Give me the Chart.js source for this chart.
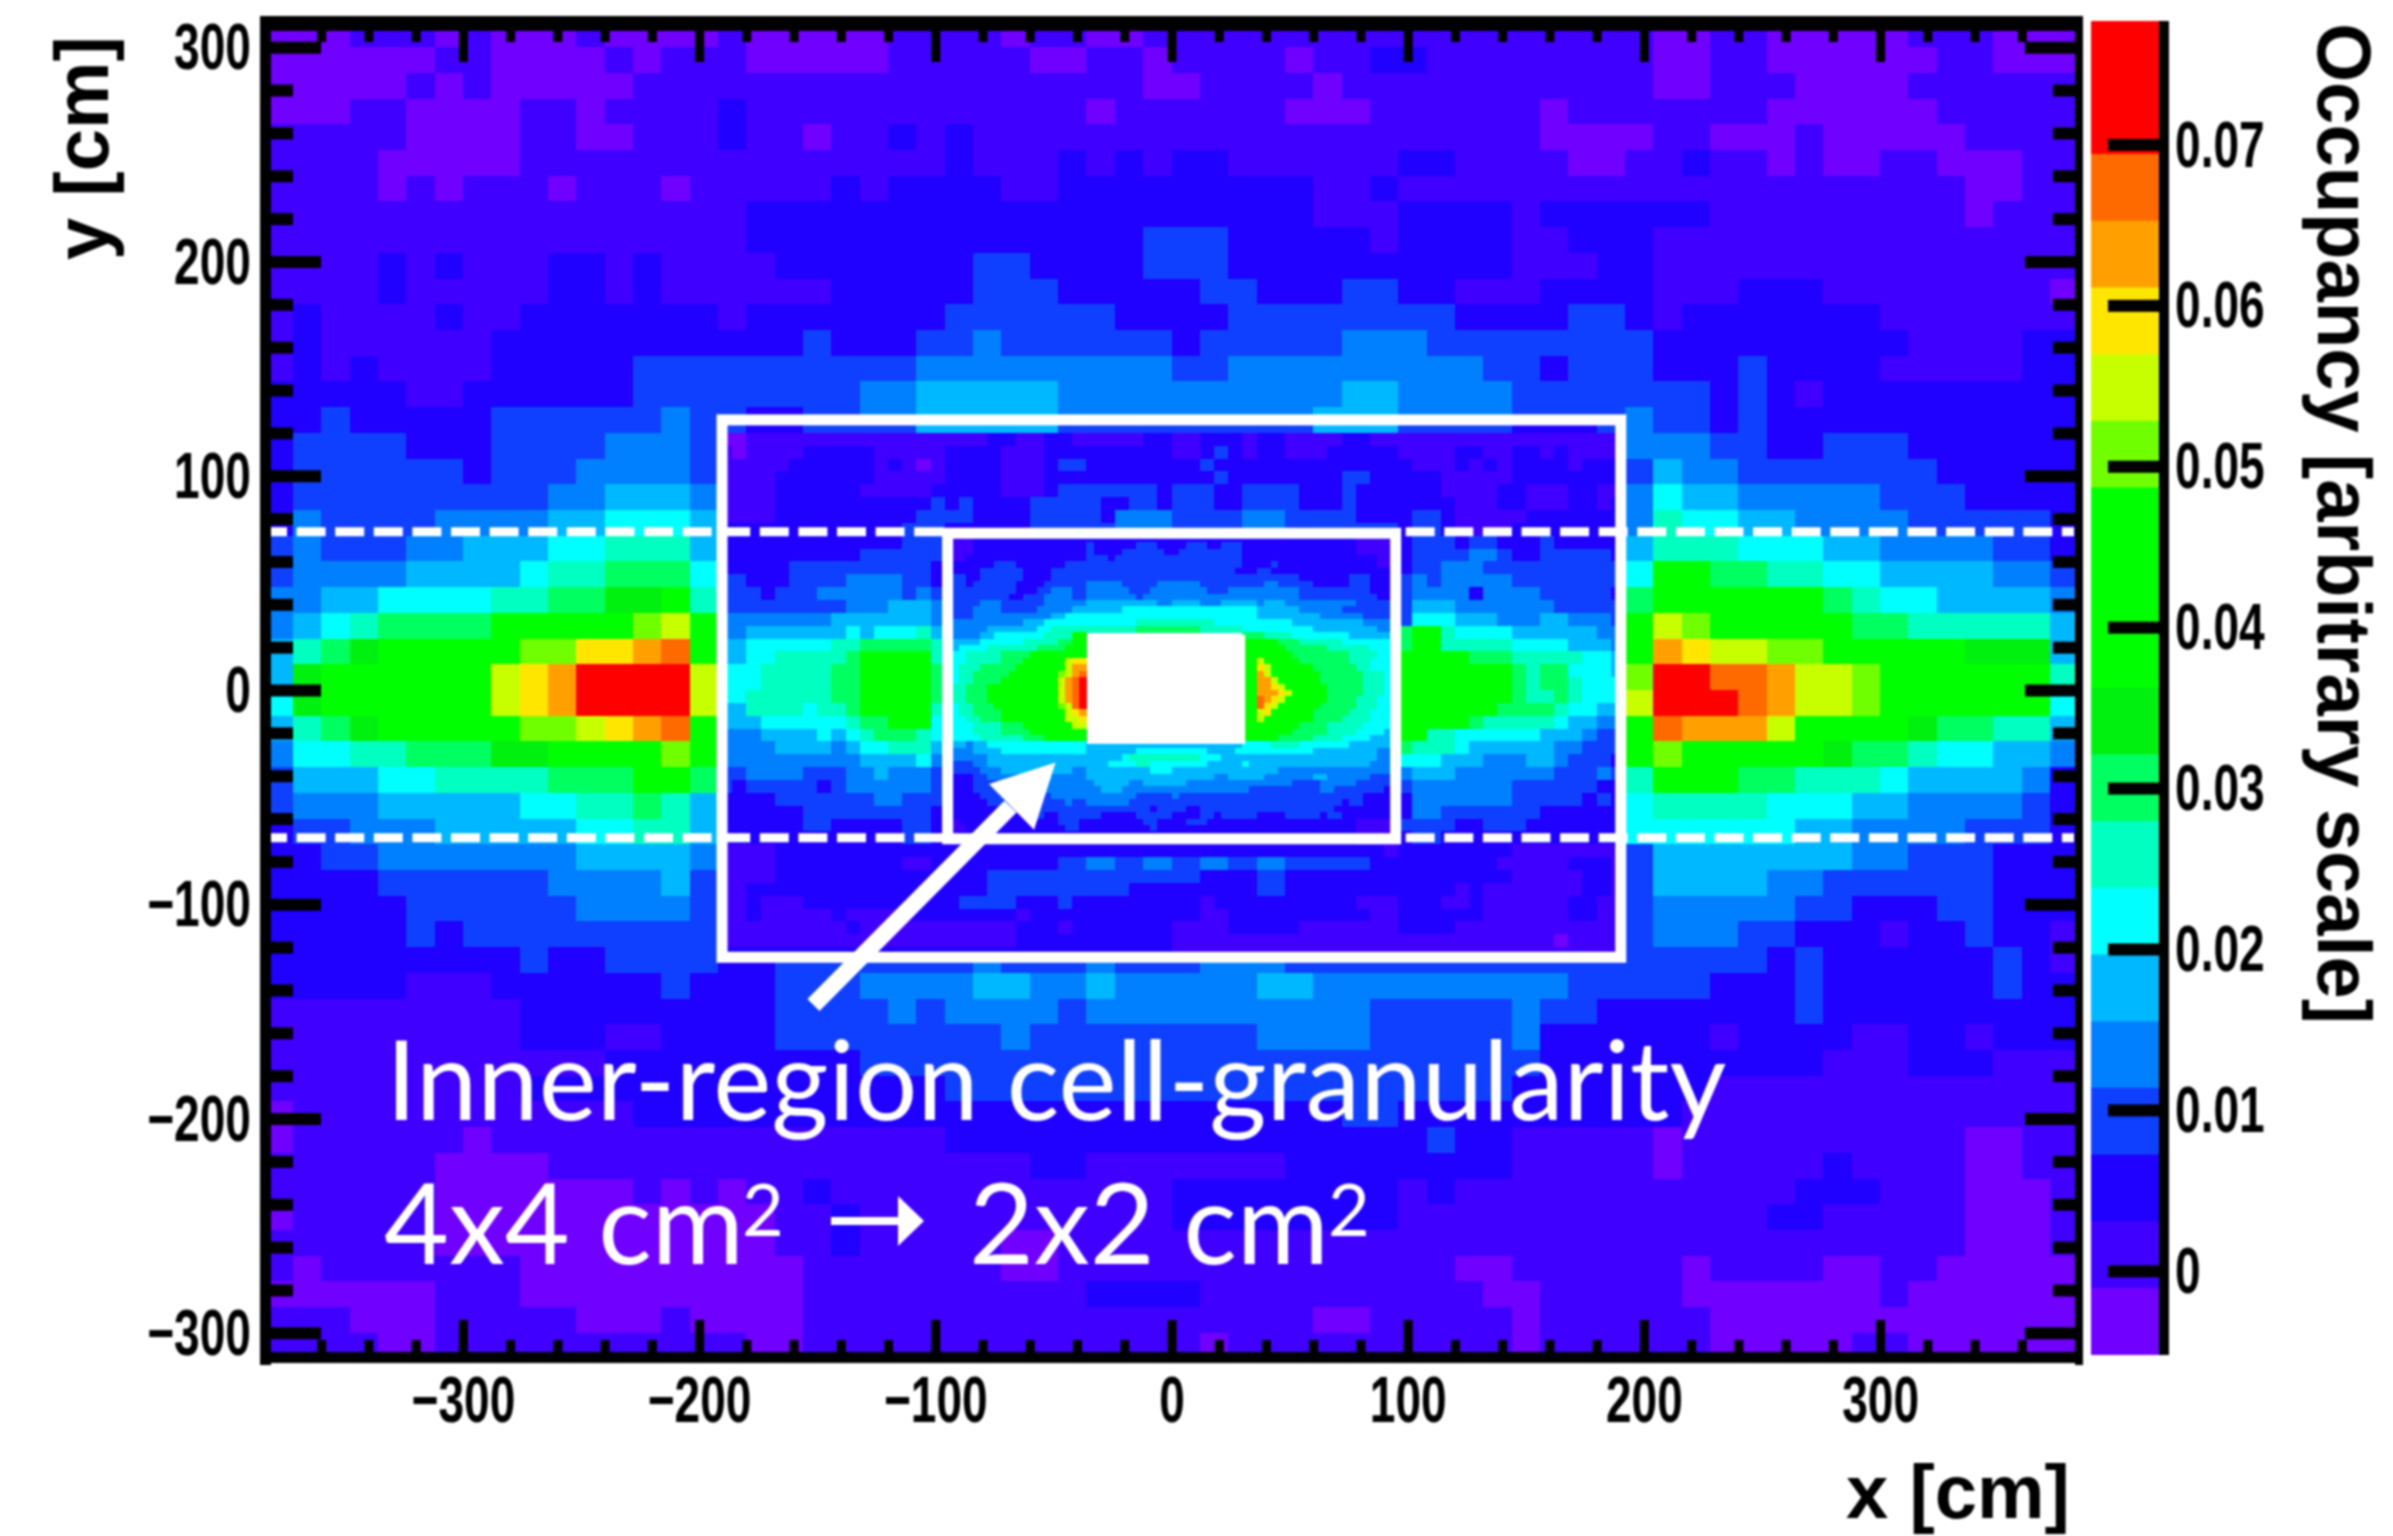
<!DOCTYPE html>
<html>
<head>
<meta charset="utf-8">
<title>Occupancy</title>
<script src="https://cdn.jsdelivr.net/npm/chart.js@4"></script>
<style>
  html, body { margin: 0; background: #fff; }
  canvas { position: absolute; top: 0; filter: blur(0.8px); }
  #map { left: 0; }
  #bar { left: 2084px; }
</style>
</head>
<body>
<canvas id="map" width="2393" height="1536"></canvas>
<canvas id="bar" width="309" height="1536"></canvas>
<script>
// each letter is one band of the colour scale, a = lowest, t = highest
const levels = "abcdefghijklmnopqrst";
const bandColors = ["#7000ff", "#4000ff", "#2000ff", "#1040ff", "#0080ff", "#00b8ff", "#00ffff", "#00ffc0", "#00ff60", "#00f010",
  "#00ff00", "#00ff00", "#00ff00", "#70ff00", "#c8ff00", "#ffe600", "#ffa000", "#ff6a00", "#ff0000", "#ff0000"];
const zMin = -0.0052;
const zMax = 0.0777;

const xTickValues = [-300, -200, -100, 0, 100, 200, 300];
const yTickValues = [-300, -200, -100, 0, 100, 200, 300];
const zTickValues = [0, 0.01, 0.02, 0.03, 0.04, 0.05, 0.06, 0.07];
const xMinorValues = [-360, -340, -320, -280, -260, -240, -220, -180, -160, -140, -120, -80, -60, -40, -20, 20, 40, 60, 80, 120, 140, 160, 180, 220, 240, 260, 280, 320, 340, 360];
const yMinorValues = [-280, -260, -240, -220, -180, -160, -140, -120, -80, -60, -40, -20, 20, 40, 60, 80, 120, 140, 160, 180, 220, 240, 260, 280];

// 12 cm cells, outer area, rows run from y = 312 downwards
const outerTop = [
  "aaab bbab aaab aaaa baaa aabb bbab baab bbbb bbbb bbbb bbbb baab baaa aabb baaa",
  "aaaa aabb aaaa babb baaa aabb bbba abba bbbb abbc cbbb bbbb baab baaa aaab baaa",
  "aaaa abab aaaa abbb bbbb bbbb bbbb bbba abbb babb bbbb bbbb baab bbaa aabb bbbb",
  "aaab baaa abba bbbb cbbb bbbb bbbb babb bbbb aaab bbbb babb bbbb baaa aaab bbbb",
  "bbbb baaa abba abbb cbba bbcb cbbb bbbb bbbb bbbb bbbb baaa abba aaba aaaa bbbb",
  "bbbb aaaa abbb bbbb bbbb bbbb cbbb cbcb ccbb bbbb ccbb bbaa bbcb baba abba aabb",
  "bbbb abab bbab bbab bbbb cbcc ccbb cccc cccc cbbc bbbb bbbb bbbb bbbb bbbb aabb",
  "bbbb bbbb bbbb bbbb bccc cccc cccc cccc cccc cbbb cccc bccc cccb bbbb bbbb abbb",
  "bbbb bbbb bbbb bbbb bccc cccc cccc cccd ddcc cccb cccc bbcc cbbb bbbb bbbb bbbb",
  "bbbb cbcb bbcc bcbb bbcc cccc cddc cccd ddcc cccc cccc bbbc cbbb bbbb bbbb bbbb",
  "bbbb cbbb bbcc bcbb bbbb cccc cddd cccc cddc ccdd ccbb bccc cbbb cccb bbbb bbba",
  "bcbb bbcb bccc cccc bccc cccc dddd ddcc ccdd dddd ddcc ccdd cbcc cccc cbbb bbbb",
  "bcbb bbbb cccc cccc cccd cccd dedd dddd cddd ddee eddd dddd dccc cccc ccbb bbcc",
  "bcbc bbbb cccc cddd dddd ddde eeee eeee ddee eeee eeed dcdd dccc dccc cbbb bbcc",
  "cccc cbbc cccc cddd dddd deef ffff eeee eeee eeff eeee dddd dddc dcbc cccc cccc",
  "ccdc cccc dddd dded dccd deef ffff eeee eeee efff eeee dddd eddc dccc cccc cccc"
];
const outerLeft = [
  "cddd dccc dddd eeed", "cddd dddc ddde eeed", "cddd dddd ddee fffe", "cedd ddee eeff gggf",
  "dedd deef ffgg hhhf", "deee efff fghh iiig", "eeff gggg hhii jjkh", "efgh iiii kkkk knok",
  "fhij kkkk knnp pqrk", "fjkk kkkk opqs ssso", "gjkk kkkk opqs ssso", "fhij kkkk knno pqrk",
  "eggh hiii jjkk kknk", "dfff gghh hhii ikki", "deee ffff fggh hihf", "cdde eeff fffg ghhf",
  "ccdd eeee eeef fffe", "cccc dddd ddee eefd", "cccc cddd ddde eeed", "cccc cdcd dddd dddd"
];
const outerRight = [
  "eeed dccd ddcc cccc", "dfee dddd dddc cccc", "egff eeee eddd cccc", "ehgg ffee eedd dddc",
  "fhhh gggf feee eddc", "gkki ihhg gfff feed", "ikkk kkki hggf fffe", "konk kkkk iihh hhhf",
  "kqpo onnk kkkk jjjf", "nssr rqoo nkkk kkkh", "osss rqoo nkkk kkkg", "krqq qokk kkji ihhf",
  "knkk kkkj iihg gffe", "hkkk iihh hgff ffec", "ghhh hggg ffee eedc", "gggg ggff eeee dddc",
  "dfff ffff eedd dccc", "dfff feed dddd dccc", "deee eedd cccd dccc", "deee ddcc cbcc dccb"
];
const outerBottom = [
  "cccc cccc cdcc dddd ccdd dddd dedd dedd deee dddd dddd dddd dddd dcdc cccc cdcb",
  "cccc cbbb cccc ccdc ccdd deee effe efee eeef feee eeee eedd dddc ccdc cccc cdcc",
  "bbbb bbbb bccc cccc ccdd dded eeee deee eeee eeed dddd eddc cccc ccdc cccc cccc",
  "bbbb bbbb bccc bbcc ccdd dddd dded dddd ddde eeed dddd eccc cccb cccc bbcc bccc",
  "bbbb bbbb bbbb cccc cccc cddd dddd dddd dddd dddd dddd dccc cccc cccb bbcc cbbb",
  "bbbb bbbb bccc cccc cccc cccc dddd dddd dddd dddd dddd cccc cccb bbbb bbbb bbbb",
  "abbb bbbb bbbb bccc cccc cccc cccc cccc cccc ccdd cccc cccc ccbb bbbb bbbb bbbb",
  "abbb bbba bbbb bbbb bbbb bbbb cccc cccc cccc cccc cdcc bbbb babb bbbb bbbb aabb",
  "bbbb bbaa aabb bbbb bbbb bbbb bbbc cbbb bbbb cccc cccc bbbb babb bbbc bbbb aabb",
  "bbbb bbaa aaaa abab abbc bbbb bbbb bbbb cccc cccc bcbb bbbb bbbb bbcc cbbb aaab",
  "abbb bbaa aaaa aaaa aabb cbbb bbbb bbbb cccc cccc bbbb bbbb bbbb bccb bbbb aaab",
  "bbbb bbaa aaaa aaaa aabb cbbb bbaa bbbb bbbb bbbb bbbb bbbb bbbb bbbb bbbb aaab",
  "babb bbbb baaa aaaa aaab bbbb bbaa bbbb bbbb bbbb bbaa bbbb bbab bbba abba aaaa",
  "aaaa aabb baaa aaaa aaab bbbb bbbb bccc cbbb bbbb bbba abbb bbaa aaaa abaa aaaa",
  "bbba aabb bbba aaba aaab bbbb bbbb bbbb bbbb baab bbbb abbb bbba aaaa aaaa aaaa",
  "bbbb aabb bbbb bbbb baab bbbb bbbb bbbb babb bbbb bbbb abbb bbba aaaa bbaa aaaa"
];

// 6 cm cells, box around the inner region, rows run from y = 126 downwards
const ringTop = [
  "ddcc ccdd dddd ddff ffff ffff dddd dddd dddd dddd ddff ffff dddd dddd cccc ccdd",
  "aabb bbbb bbbb bbbb bbbc cbbc cbbb bbcc bbcc cbcc bbbb ccbb bbbb bbbb bbbb bbbb",
  "babb bbcc cccb bbbb cccc bbbc cccc cccc bbcd cbcc bbbc cccc bbbb ccbb ccbc bbbb",
  "bbbb bccc cccb cbab cccc bbbc ddcc cccc ccdc cccc cccc cccc cbbb cbcb cccc bccc",
  "bbbb cccc cccb bbbb cccc bbbc cccc cccc cccd cccc cccc ddcc cccb bbbb cccc cccc",
  "bbbb cccc ccbb bbbc cccc bbbc dddd dddc dddc cddd dccc dccc cccb bbbc cbbb ccbb",
  "bbbb cccc cccc cccd cdcc ccdd dddc cddc dddc cddd dccc dccc cccc bbbc cbbb ccbc",
  "bbbb cccc cccc ccdd ddcc ccdd dddc eeee dddd deee dddd dccc cddc bbbb bccc cccc",
  "cccc cccc cccc cddd cccc ccdd dddd eeee dddd deee dddd dddd cddc bbbb cccc cccc"
];
const ringLeft = [
  "cccc cccc cccc cddd", "cccc cccc ccdd dddd", "cccc cddd dddd dddc", "ddcc cddd deee eddc",
  "dddc ddde eeee eded", "dddd dddd deee fffe", "eeee eeee ffff fffe", "eeff ffff fgfg gghf",
  "ffgg gggg hhii iiih", "ffgg hhhh hikk kkkh", "gggh hhhh iikk kkki", "gggh hhhh iikk kkki",
  "gghh hhhh iikk kkki", "ffhh hhgh hikk kkkh", "fffg gggg ghii kkkg", "eeef fffg fghi iihg",
  "eeee ffff efgg hhhf", "eeee eeee eeff ffge", "ddee eedd deef eeed", "dcdd dddc deee eeed",
  "cccc dddd ddde eddd", "cccc ccdd dddd dddc", "cccc ccdd cccc cddc", "cccc cccc cccc cddc"
];
const ringRight = [
  "cddd cddc ccdc cccc", "cddd deed ccdd dddc", "cdde eedd dddd dddd", "dede eeee dddd dddd",
  "deee ecee eedd dddc", "dfff eeee eeed dddd", "dggg fffe eeff eeed", "ikkh gggg ffff ffee",
  "ikkh hhhh gggg fffe", "kkkk kiii hhhh hggf", "kkkk kkkk ihii gggf", "kkkk kkkk ihii hggg",
  "kkkk kkkk ihhi hggg", "kkkk kkki iiih ggff", "kkkk kihh hhhg ffee", "kkhh gggg ggff fedd",
  "ihhh gfff fffe eddd", "gggf ffee effe dddc", "efff eeee eeed dded", "deee eeee dddd ddcc",
  "ceee eeee dddd dcdc", "ceed dddd ddcc cccc", "dddd ccdd dccc cccc", "cddc cccc cccc cccc"
];
const ringBottom = [
  "bbbb cccc cccc cccc cccc cccc cccc cccc cccc cccc cccc cccb cccc cccc bbbb bbbb",
  "bbbb cccc cccc cbbc cccc cccc ddee ddee ddee ddee dddd ddcc cccc cccb bbbb cccb",
  "bbbb cccc cccc cccc cccd dddd dddd dddd ddcc ccdd cccc cccc cccc cccc bbbb bccb",
  "bbcc cccc cccc cccc cccd dddd dddd dccc cccc ccdd cccc cccc cccc bcbb bbbb bccb",
  "bbcb bbcc cccc cccc cddd dccc dccc cccc ccbc cccc cccc cbbb cccb bcbb bbbb ccbb",
  "bbcb bbbb cbbb bccc cccc cbcc cccc cccc ccbb cccc cccc ccbb cccc ccbb bbbb ccbb",
  "bbbb bbbb bcbb bbbb bbbb bccc bccc cccc bbbb cccc cbbb bbbb cccc bbbb bbbb bbbb",
  "bbbb bbbb bbbb bbbb bbbb bccc cccc cccc bbbb bbbb bbbb bbbb bbbb bbbb bbba bbbb",
  "cccc cccc cccc cccc cccc cccc cccc cccc bbbb bbbb bbbb bbbb bbbb bbbb bbbb bbbb"
];

// 3 cm cells, inner region, rows run from y = 72 downwards, dots are the beam hole
const innerRows = [
  "bbbb cccc cccc cccc cccc cccc cccc cccc cccc cccc cccc cccc cccc cccc ccbb bbbb",
  "bbbb cccc cccc cccc cccc dccc cccd ddcc ccdd dccd ddcc cccc cccc cccc ccbb bbbb",
  "bbbb cccc cccc cccc cccc dccc cddd dddc cddd dddd ddcc cccc cccc cccc ccbb bbbb",
  "cbbc cccc cccc cccc cccc dddc dddd dddd dddd dddd ddcc cccc cccc cccc cccc cbbb",
  "cccc cccd ddcc cccc cddd dddd dddd dddd dddd dddd ddcc ccdc cccc cccc cccc cbbb",
  "cccc cddd dddc cccd dddd dddd dddd dddd dddd dddd dccc ddcc cccc cccc cccc cccb",
  "cddc cddd dddc cccd dddd dddd dddd dddd dddd dddd dddd dddd ddcc cccc cddd cccc",
  "cddc dddd ddcc ccdd dddd eeee eddd ddee eeee dddd dddd deed dddd cccc cddd cccc",
  "dddd dddd ddcc cdde eedd eeee eedd deee eeee eddd eeee eeee eedd dddd dddd cccc",
  "dddd dddd dccd ddee eedd eeee eeed eeee eeee eeee eeee eeee eedd dddd dddd dccc",
  "dddd deee dddd ddee eeee ffff ffff ffee ffff eeef ffff efff eeee eeee eedd dddd",
  "dddd eeee dddd deee eeff ffff fggg gggg gggg gggg gggg ffff ffee eeee dddd dddd",
  "dddd eeee eeee eeef fggg gggg gggg gggg gggg gggg gggg ffff ffff feee eeed dddd",
  "eeee eeee eeef ffgg gggg gggg gggh hhhh hhhh hhgg gggg gggg gfff ffff fffe eeee",
  "eeee eeff ffff fggh hhhh hhhh hhhi iiii iiii hhhh hhgg gggg gggg ffff ffff feee",
  "eeee effg gggg gghh hhkk .... .... .... .... .... ..ii ihhh hggg gggg gfff ffff",
  "efff fggg gggh hhhh iikk .... .... .... .... .... ..kk kkki iihh hhhh gggg gggf",
  "efgg gghh hhhh hiii ikkk .... .... .... .... .... ..kk kkkk iiii iihh hhhh gggg",
  "fggh hhhh iiii kkkk kkkk .... .... .... .... .... ..kk kkkk kiii iiii ihhh hggg",
  "fggh hhhh iiik kkkk kopp .... .... .... .... .... ..kk okkk kkii iiii ihhh gggg",
  "gghh hiii iikk kkkk koqq .... .... .... .... .... ..kk pokk kkkk iiii iihh gggg",
  "gghh iiii ikkk kkkk noqr .... .... .... .... .... ..kk qokk kkkk kiii iiih hhgg",
  "gghh iiii kkkk kkkk oqrs .... .... .... .... .... ..kk qqok kkkk kiii iiih hhgg",
  "ghhi iikk kkkk kkkk oqrs .... .... .... .... .... ..kk qqpo kkkk kkii iiih hhgg",
  "ghhi iikk kkkk kkkk oqrs .... .... .... .... .... ..kk qqqp okkk kkii iiih hhgg",
  "ghhi iikk kkkk kkkk oqrs .... .... .... .... .... ..kk rqpo kkkk kkii iihh hggg",
  "gghh iiik kkkk kkkk nors .... .... .... .... .... ..kk rpok kkkk kiii iihh hggg",
  "gghh iiii kkkk kkkk kopq .... .... .... .... .... ..kk opkk kkkk iiii ihhh gggg",
  "gggh hiii kkkk kkkk koop .... .... .... .... .... ..kk okkk kkkk iiii hhhh gggg",
  "gggg hhhh iiik kkkk kkoo .... .... .... .... .... ..kk kkkk kkii iihh hhhg gggf",
  "fggg hhhh iiii kkkk kkkk .... .... .... .... .... ..kk kkkk kiii iihh hhgg ggff",
  "fggg ghhh hhhi iikk kkkk .... .... .... .... .... ..kk kkki iiii hhhh gggg ffff",
  "effe ffgg gggg gggg gggg ffff ffff ffff ffff ffff ffgg gghh hhgg gggg gfff ffff",
  "eeee ffff gggg gggg gggg ffff fffg gggg gggg gfff fggg gggg gggg ffff ffff feee",
  "eeee eeff ffff ffff ffff ffff fghh hhhh hhhh gggf ffff ffff ffff ffff ffff feee",
  "dddd eeff ffff ffff ffff fffg gggh hggg gggg gfff ffgf ffff ffff ffff ffff eeee",
  "dddd deee ffff ffff ffee ffff ffff fggg ffff ffff ffff fffe eeee eeee eeee eeee",
  "dccc ddee eeee fffe eeee ffff ffff ffff ffff ffee ffff feee eeee ffee eeee dddd",
  "dccc dddd eeee eeee eeee efff ffee ffff ffee eeee eeee eeee eddd deee eedd dddd",
  "cccc dddd dddd eeee eeee eeff feee eeee eeee eeee eeed dddd dddd deed dddd ddcc",
  "cccc cddd dddd ddde eeee eeee eeed dddd eddd dddd dddd dddd dddd dddd dddc cccc",
  "cccc ccdd dddd dddd dedd eeee eedd dddd dddd dddd dddd dddd dddd dddd cddc cccc",
  "cccc cccc cddd dddd dddd dddd dddd dcdd ddcc dddd dddd dddd dddd dddc cccc cccc",
  "cccc cccc cccc cdcc dddd ddcc cccd dddd cccc ddcd dddd cccc dddd dcdd cccc cccc",
  "bbcc cccc cccc cccc dddc cccc cccc ddcc ccdd dccc cccc cccc cccc cccc ccbb bbbb",
  "abbc cccc cccc cccc cddc cccc cccc cdcc cccc cccc cccc cccc cccc cccc ccbb bbba",
  "bbcc cccc cccc cccc cccc cccc cccc cccc cccc cccc cccc cccc cccc cccc ccbb bbbb",
  "bbcc cccc cccc cccc cccc cccc cccc cccc cccc cccc cccc cccc cccc cccc ccbb bbbb"
];

// annotations, in cm
const regionBoxes = [
  { x0: -190.5, x1: 190, y0: -124.5, y1: 126.3 },
  { x0: -95, x1: 94.7, y0: -69.2, y1: 73.4 }
];
const beamHole = { x0: -36, x1: 31, y0: -24.9, y1: 26 };
const dashedY = [74.1, -68.7];
const arrowTail = [-151.8, -146.8];
const arrowNeck = [-68.4, -54.2];
const arrowTip = [-49.3, -33.6];
const arrowBarbs = [[-77.5, -43.6], [-58.4, -65]];

// turn the letter rows into cells
function addCells(out, rows, x0, y0, size) {
  rows.forEach((row, j) => {
    row.replace(/ /g, "").split("").forEach((ch, i) => {
      if (ch === ".") return;
      const level = levels.indexOf(ch);
      out.push({
        x: x0 + (i + 0.5) * size,
        y: y0 - (j + 0.5) * size,
        size: size,
        level: level
      });
    });
  });
}

const cells = [];
addCells(cells, outerTop, -384, 312, 12);
addCells(cells, outerLeft, -384, 120, 12);
addCells(cells, outerRight, 192, 120, 12);
addCells(cells, outerBottom, -384, -120, 12);
addCells(cells, ringTop, -192, 126, 6);
addCells(cells, ringLeft, -192, 72, 6);
addCells(cells, ringRight, 96, 72, 6);
addCells(cells, ringBottom, -192, -72, 6);
addCells(cells, innerRows, -96, 72, 3);

const labelFont = "bold 64px 'Liberation Sans'";
const titleFont = "bold 76px 'Liberation Sans'";

// the labels in the original are squeezed sideways, no narrow font is installed
function drawLabel(ctx, text, x, y, align, squeeze) {
  ctx.save();
  ctx.translate(x, y);
  ctx.scale(squeeze, 1);
  ctx.textAlign = align;
  ctx.textBaseline = "middle";
  ctx.fillText(text, 0, 0);
  ctx.restore();
}

function drawTitle(ctx, text, x, y, angle) {
  ctx.save();
  ctx.translate(x, y);
  ctx.rotate(angle);
  ctx.font = titleFont;
  ctx.textAlign = "left";
  ctx.textBaseline = "alphabetic";
  ctx.fillText(text, 0, 0);
  ctx.restore();
}

function signed(v) {
  return v < 0 ? "\u2212" + Math.abs(v) : String(v);
}

const heatmapPlugin = {
  id: "heatmap",
  beforeDatasetsDraw(chart) {
    const ctx = chart.ctx;
    const { x, y } = chart.scales;
    ctx.save();
    cells.forEach(c => {
      const left = Math.floor(x.getPixelForValue(c.x - c.size / 2));
      const right = Math.ceil(x.getPixelForValue(c.x + c.size / 2));
      const top = Math.floor(y.getPixelForValue(c.y + c.size / 2));
      const bottom = Math.ceil(y.getPixelForValue(c.y - c.size / 2));
      ctx.fillStyle = bandColors[c.level];
      ctx.fillRect(left, top, right - left, bottom - top);
    });
    ctx.fillStyle = "#fff";
    ctx.fillRect(x.getPixelForValue(beamHole.x0), y.getPixelForValue(beamHole.y1),
      x.getPixelForValue(beamHole.x1) - x.getPixelForValue(beamHole.x0),
      y.getPixelForValue(beamHole.y0) - y.getPixelForValue(beamHole.y1));
    ctx.restore();
  }
};

function drawFrame(chart) {
  const ctx = chart.ctx;
  const { x, y } = chart.scales;
  const area = chart.chartArea;
  ctx.save();
  ctx.fillStyle = "#000";
  // ROOT style ticks, inside the frame on all four sides
  function xTick(v, len, w) {
    const px = x.getPixelForValue(v);
    ctx.fillRect(px - w / 2, area.top, w, len + 8);
    ctx.fillRect(px - w / 2, area.bottom - len - 7, w, len + 7);
  }
  function yTick(v, len, w) {
    const py = y.getPixelForValue(v);
    ctx.fillRect(area.left, py - w / 2, len + 6, w);
    ctx.fillRect(area.right - len - 4, py - w / 2, len + 4, w);
  }
  xMinorValues.forEach(v => xTick(v, 12, 9));
  xTickValues.forEach(v => xTick(v, 32, 9));
  yMinorValues.forEach(v => yTick(v, 22, 12));
  yTickValues.forEach(v => yTick(v, 50, 12));
  ctx.fillRect(area.left - 5, area.top - 6, 11, area.height + 12);
  ctx.fillRect(area.right - 4, area.top - 6, 8, area.height + 12);
  ctx.fillRect(area.left - 5, area.top - 6, area.width + 9, 15);
  ctx.fillRect(area.left - 5, area.bottom - 7, area.width + 9, 11);

  ctx.font = labelFont;
  xTickValues.forEach(v => drawLabel(ctx, signed(v), x.getPixelForValue(v), 1404, "center", 0.72));
  yTickValues.forEach(v => drawLabel(ctx, signed(v), 251, y.getPixelForValue(v) + 4, "right", 0.72));
  drawTitle(ctx, "x [cm]", 1846, 1518, 0);
  drawTitle(ctx, "y [cm]", 108, 260, -Math.PI / 2);
  ctx.restore();
}

function drawOverlays(chart) {
  const ctx = chart.ctx;
  const { x, y } = chart.scales;
  const area = chart.chartArea;
  ctx.save();
  ctx.strokeStyle = "#fff";
  ctx.fillStyle = "#fff";

  // dashed lines stop at the inner box
  ctx.lineWidth = 9;
  ctx.setLineDash([29, 9.6]);
  dashedY.forEach(v => {
    const py = y.getPixelForValue(v);
    ctx.beginPath();
    ctx.moveTo(area.left - 7, py);
    ctx.lineTo(x.getPixelForValue(regionBoxes[1].x0), py);
    ctx.stroke();
    ctx.beginPath();
    ctx.moveTo(x.getPixelForValue(regionBoxes[1].x1) + 10, py);
    ctx.lineTo(area.right - 5, py);
    ctx.stroke();
  });
  ctx.setLineDash([]);

  ctx.lineWidth = 11;
  ctx.lineJoin = "miter";
  regionBoxes.forEach(b => {
    const px0 = x.getPixelForValue(b.x0);
    const px1 = x.getPixelForValue(b.x1);
    const py0 = y.getPixelForValue(b.y1);
    const py1 = y.getPixelForValue(b.y0);
    ctx.strokeRect(px0, py0, px1 - px0, py1 - py0);
  });

  // big arrow
  ctx.lineWidth = 17;
  ctx.beginPath();
  ctx.moveTo(x.getPixelForValue(arrowTail[0]), y.getPixelForValue(arrowTail[1]));
  ctx.lineTo(x.getPixelForValue(arrowNeck[0]), y.getPixelForValue(arrowNeck[1]));
  ctx.stroke();
  ctx.beginPath();
  ctx.moveTo(x.getPixelForValue(arrowTip[0]), y.getPixelForValue(arrowTip[1]));
  ctx.lineTo(x.getPixelForValue(arrowBarbs[0][0]), y.getPixelForValue(arrowBarbs[0][1]));
  ctx.lineTo(x.getPixelForValue(arrowBarbs[1][0]), y.getPixelForValue(arrowBarbs[1][1]));
  ctx.closePath();
  ctx.fill();

  // caption
  ctx.textBaseline = "alphabetic";
  ctx.textAlign = "left";
  ctx.font = "110px Lato";
  ctx.fillText("Inner-region cell-granularity", 386, 1120);
  ctx.font = "112px Lato";
  ctx.fillText("4x4 cm", 384, 1264);
  ctx.fillText("2x2 cm", 969, 1264);
  ctx.font = "72px Lato";
  ctx.fillText("2", 742, 1236);
  ctx.fillText("2", 1328, 1236);

  // small arrow in the caption
  ctx.fillRect(831, 1217, 70, 8);
  ctx.beginPath();
  ctx.moveTo(924, 1221);
  ctx.lineTo(898, 1196);
  ctx.lineTo(898, 1246);
  ctx.closePath();
  ctx.fill();
  ctx.restore();
}

new Chart(document.getElementById("map"), {
  type: "scatter",
  data: {
    datasets: [{ label: "Occupancy", data: cells, pointRadius: 0, pointHitRadius: 0 }]
  },
  plugins: [heatmapPlugin, {
    id: "overlays",
    afterDatasetsDraw(chart) {
      drawOverlays(chart);
      drawFrame(chart);
    }
  }],
  options: {
    responsive: false,
    animation: false,
    events: [],
    layout: { padding: { left: 10, right: 314, top: 22, bottom: 7 } },
    plugins: { legend: { display: false }, tooltip: { enabled: false } },
    scales: {
      x: {
        type: "linear",
        min: -384,
        max: 384,
        grid: { display: false },
        border: { display: false },
        ticks: { display: false },
        afterBuildTicks: scale => { scale.ticks = xTickValues.map(v => ({ value: v })); },
        afterFit: scale => { scale.height = 170; scale.paddingLeft = 0; scale.paddingRight = 0; }
      },
      y: {
        type: "linear",
        min: -312,
        max: 312,
        grid: { display: false },
        border: { display: false },
        ticks: { display: false },
        afterBuildTicks: scale => { scale.ticks = yTickValues.map(v => ({ value: v })); },
        afterFit: scale => { scale.width = 255; scale.paddingTop = 0; scale.paddingBottom = 0; }
      }
    }
  }
});

// colour scale: one floating bar per band
const bandHeight = (zMax - zMin) / bandColors.length;
const bandDatasets = bandColors.map((color, i) => ({
  data: [[zMin + i * bandHeight, zMin + (i + 1) * bandHeight]],
  backgroundColor: color,
  borderWidth: 0,
  grouped: false,
  barPercentage: 1,
  categoryPercentage: 1
}));

new Chart(document.getElementById("bar"), {
  type: "bar",
  data: { labels: ["Occupancy"], datasets: bandDatasets },
  plugins: [{
    id: "barTicks",
    afterDatasetsDraw(chart) {
      const ctx = chart.ctx;
      const y = chart.scales.y;
      const area = chart.chartArea;
      ctx.save();
      ctx.fillStyle = "#000";
      zTickValues.forEach(v => {
        ctx.fillRect(area.right - 61, y.getPixelForValue(v) - 6, 61, 12);
      });
      ctx.fillRect(area.right - 10, area.top, 10, area.height);
      ctx.font = labelFont;
      zTickValues.forEach(v => drawLabel(ctx, String(v), area.right + 6, y.getPixelForValue(v) + 4, "left", 0.72));
      drawTitle(ctx, "Occupancy [arbitrary scale]", 234, 23, Math.PI / 2);
      ctx.restore();
    }
  }],
  options: {
    responsive: false,
    animation: false,
    events: [],
    layout: { padding: { left: 7, right: 0, top: 21, bottom: 181 } },
    plugins: { legend: { display: false }, tooltip: { enabled: false } },
    scales: {
      x: { display: false },
      y: {
        position: "right",
        min: zMin,
        max: zMax,
        grid: { display: false },
        border: { display: false },
        ticks: { display: false },
        afterBuildTicks: scale => { scale.ticks = zTickValues.map(v => ({ value: v })); },
        afterFit: scale => { scale.width = 224; scale.paddingTop = 0; scale.paddingBottom = 0; }
      }
    }
  }
});
</script>
</body>
</html>
